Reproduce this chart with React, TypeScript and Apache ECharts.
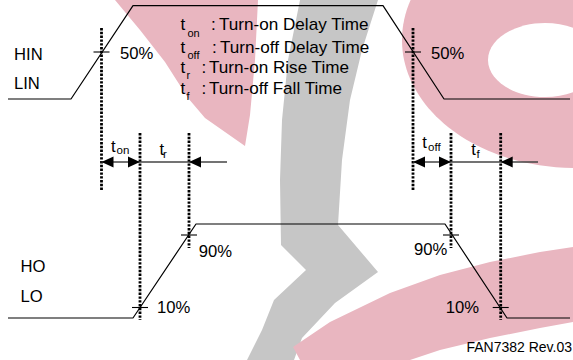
import { useEffect, useRef } from "react";
import * as echarts from "echarts";

// ---- Waveforms (time on x, level in diagram units on y) ----
const inputTimes = [8, 71, 133, 383, 444, 570];
const inputLevels = [99, 99, 5.7, 5.7, 99, 99];
const outputTimes = [8, 133, 196, 445, 507, 570];
const outputLevels = [318, 318, 224, 224, 318, 318];

// ---- Threshold crossing points ----
const crossTimes = [101.5, 413, 140, 189, 451, 500.7];
const crossLevels = [52, 52, 307.5, 235, 235, 307.5];
const crossLabels = ["50%", "50%", "10%", "90%", "90%", "10%"];

// ---- Dotted measurement markers ----
const markerTimes = [101.5, 140, 189, 413, 451, 500.7];
const markerTop = [28, 133, 133, 28, 133, 133];
const markerBottom = [190, 320, 248, 190, 248, 320];

// ---- Dimension arrows ----
const dimStart = [101.5, 413];
const dimEnd = [227, 538];
const dimLevel = 162;
const arrowTimes = [101.5, 140, 189, 413, 451, 500.7];
const arrowDirs = [-1, 1, -1, -1, 1, -1];

// ---- Texts ----
const signalLabels = ["HIN", "LIN", "HO", "LO"];
const legendSymbols = ["on", "off", "r", "f"];
const legendTexts = [
  "Turn-on Delay Time",
  "Turn-off Delay Time",
  "Turn-on Rise Time",
  "Turn-off Fall Time",
];
const intervalSymbols = ["on", "r", "off", "f"];
const footnote = "FAN7382 Rev.03";

const FONT = "'Liberation Sans', Arial, Helvetica, sans-serif";
const PINK = "#e9b6c0";
const GREY = "#c6c6c6";

export default function App() {
  const ref = useRef<HTMLDivElement>(null);

  useEffect(() => {
    document.body.style.margin = "0";
    if (!ref.current) return;
    const chart = echarts.init(ref.current, undefined, { renderer: "svg" });

    const txt = (
      text: string,
      x: number,
      y: number,
      size = 16,
      sx = 1.04,
      align: string = "left"
    ) => ({
      type: "text",
      x,
      y,
      scaleX: sx,
      z: 10,
      silent: true,
      style: {
        text,
        fontSize: size,
        fontFamily: FONT,
        fill: "#000",
        align,
        verticalAlign: "middle",
      },
    });

    const signalPos = [
      [14, 54],
      [14, 83],
      [20.5, 266.5],
      [20.5, 296.5],
    ];
    const crossLabelPos = [
      [120, 53, "left"],
      [431, 53, "left"],
      [157, 307.5, "left"],
      [198.7, 251.5, "left"],
      [447.3, 249, "right"],
      [479, 307.5, "right"],
    ];
    const legendY = [25, 47.5, 67.5, 88.5];
    const legendSubX = [187.5, 187.5, 186.5, 186.5];
    const legendColonX = [211, 212, 201.5, 201.5];
    const legendTextX = [219, 220, 209, 209];

    const intervalT = [
      [111, 146],
      [159.5, 149.3],
      [422.3, 142.3],
      [471.3, 149.3],
    ];
    const intervalSub = [
      [116.5, 150.5],
      [163, 154],
      [428, 147.5],
      [476.5, 154],
    ];

    const graphics: any[] = [
      // watermark
      {
        type: "ellipse",
        z: 0,
        silent: true,
        shape: { cx: 575, cy: 40, rx: 173, ry: 128 },
        style: { fill: PINK },
      },
      {
        type: "ellipse",
        z: 0,
        silent: true,
        shape: { cx: 545, cy: 60, rx: 57, ry: 37 },
        style: { fill: "#fff" },
      },
      {
        type: "polygon",
        z: 0,
        silent: true,
        shape: {
          points: [
            [115, 0],
            [258, 0],
            [255, 60],
            [250, 115],
            [245, 146],
            [225, 132],
            [205, 118],
            [188, 98],
            [165, 62],
            [140, 30],
          ],
        },
        style: { fill: PINK },
      },
      {
        type: "polygon",
        z: 0,
        silent: true,
        shape: {
          points: [
            [300, 0],
            [378, 0],
            [362, 50],
            [350, 100],
            [342, 160],
            [338, 225],
            [378, 272],
            [335, 303],
            [302, 338],
            [294, 360],
            [247, 360],
            [262, 330],
            [274, 300],
            [306, 270],
            [281, 245],
            [280, 180],
            [282, 120],
            [288, 60],
          ],
        },
        style: { fill: GREY },
      },
      {
        type: "polygon",
        z: 0,
        silent: true,
        shape: {
          points: [
            [293, 347],
            [330, 322],
            [390, 293],
            [440, 275],
            [490, 262],
            [540, 252],
            [573, 247],
            [573, 322],
            [540, 328],
            [490, 338],
            [440, 350],
            [410, 360],
            [300, 360],
          ],
        },
        style: { fill: PINK },
      },
    ];

    signalLabels.forEach((s, i) =>
      graphics.push(txt(s, signalPos[i][0], signalPos[i][1]))
    );
    crossLabels.forEach((s, i) =>
      graphics.push(
        txt(
          s,
          crossLabelPos[i][0] as number,
          crossLabelPos[i][1] as number,
          16,
          1.04,
          crossLabelPos[i][2] as string
        )
      )
    );
    legendSymbols.forEach((s, i) => {
      graphics.push(txt("t", 180.5, legendY[i], 16, 1.07));
      graphics.push(txt(s, legendSubX[i], legendY[i] + 8, 10, 1.1));
      graphics.push(txt(":", legendColonX[i], legendY[i], 16, 1.07));
      graphics.push(txt(legendTexts[i], legendTextX[i], legendY[i], 16, 1.07));
    });
    intervalSymbols.forEach((s, i) => {
      graphics.push(txt("t", intervalT[i][0], intervalT[i][1], 16, 1.04));
      graphics.push(txt(s, intervalSub[i][0], intervalSub[i][1], 11, 1.05));
    });
    graphics.push(txt(footnote, 572, 347, 14, 1, "right"));

    chart.setOption({
      animation: false,
      grid: { left: 0, right: 0, top: 0, bottom: 0 },
      xAxis: { type: "value", min: 0, max: 573, show: false },
      yAxis: { type: "value", min: 0, max: 360, inverse: true, show: false },
      graphic: graphics,
      series: [
        {
          type: "line",
          name: "HIN/LIN",
          data: inputTimes.map((t, i) => [t, inputLevels[i]]),
          showSymbol: false,
          silent: true,
          lineStyle: { color: "#000", width: 1.2 },
          z: 3,
        },
        {
          type: "line",
          name: "HO/LO",
          data: outputTimes.map((t, i) => [t, outputLevels[i]]),
          showSymbol: false,
          silent: true,
          lineStyle: { color: "#000", width: 1.2 },
          z: 3,
        },
        {
          type: "custom",
          name: "markers",
          silent: true,
          z: 4,
          data: markerTimes.map((t, i) => [t, markerTop[i], markerBottom[i]]),
          renderItem: (_p: any, api: any) => {
            const a = api.coord([api.value(0), api.value(1)]);
            const b = api.coord([api.value(0), api.value(2)]);
            return {
              type: "line",
              shape: { x1: a[0], y1: a[1], x2: b[0], y2: b[1] },
              style: { stroke: "#000", lineWidth: 2.8, lineDash: [2.4, 1.4] },
            };
          },
        },
        {
          type: "custom",
          name: "dimension lines",
          silent: true,
          z: 4,
          data: dimStart.map((s, i) => [s, dimLevel, dimEnd[i]]),
          renderItem: (_p: any, api: any) => {
            const a = api.coord([api.value(0), api.value(1)]);
            const b = api.coord([api.value(2), api.value(1)]);
            return {
              type: "line",
              shape: { x1: a[0], y1: a[1], x2: b[0], y2: b[1] },
              style: { stroke: "#444", lineWidth: 1.4 },
            };
          },
        },
        {
          type: "custom",
          name: "arrowheads",
          silent: true,
          z: 5,
          data: arrowTimes.map((t, i) => [t, dimLevel, arrowDirs[i]]),
          renderItem: (_p: any, api: any) => {
            const tip = api.coord([api.value(0), api.value(1)]);
            const d = api.value(2);
            return {
              type: "polygon",
              shape: {
                points: [
                  [tip[0], tip[1]],
                  [tip[0] - d * 12, tip[1] - 5.5],
                  [tip[0] - d * 12, tip[1] + 5.5],
                ],
              },
              style: { fill: "#000" },
            };
          },
        },
        {
          type: "custom",
          name: "crossings",
          silent: true,
          z: 5,
          data: crossTimes.map((t, i) => [t, crossLevels[i]]),
          renderItem: (_p: any, api: any) => {
            const c = api.coord([api.value(0), api.value(1)]);
            return {
              type: "line",
              shape: { x1: c[0] - 8, y1: c[1], x2: c[0] + 8, y2: c[1] },
              style: { stroke: "#000", lineWidth: 1.1 },
            };
          },
        },
      ],
    });

    return () => chart.dispose();
  }, []);

  return <div ref={ref} style={{ width: 573, height: 360 }} />;
}
